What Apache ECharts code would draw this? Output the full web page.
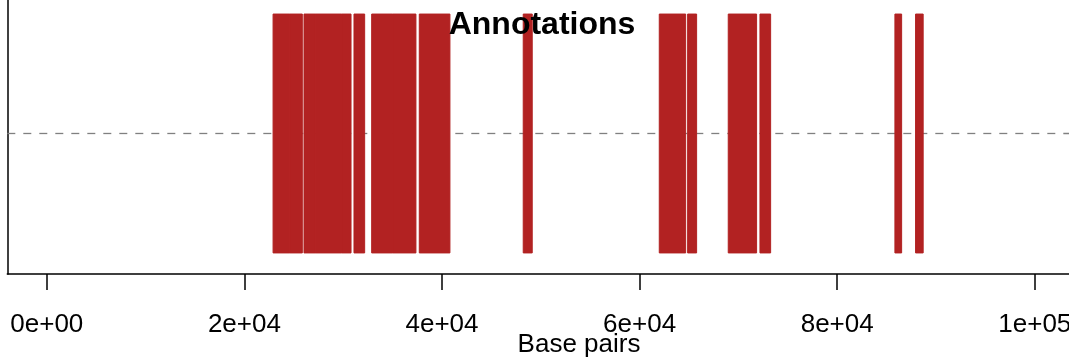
<!DOCTYPE html>
<html>
<head>
<meta charset="utf-8">
<script src="https://cdn.jsdelivr.net/npm/echarts@6/dist/echarts.min.js"></script>
<style>
html,body{margin:0;padding:0;background:#fff;}
#c{width:1069px;height:363px;}
</style>
</head>
<body>
<div id="c"></div>
<script>
// Annotation features (base pairs)
const featureStart = [22900, 24600, 26030, 27150, 29840, 31090, 32880, 35000, 37700, 48220, 61990, 64860, 68970, 72180, 85840, 87930];
const featureEnd   = [24600, 25860, 27150, 29840, 30790, 32170, 35000, 37360, 40800, 49130, 64660, 65770, 71840, 73260, 86520, 88700];
const featureLow = 0.075;
const featureHigh = 0.925;
const midLine = 0.5;
const tickValues = [0, 20000, 40000, 60000, 80000, 100000];
const tickLabels = ['0e+00', '2e+04', '4e+04', '6e+04', '8e+04', '1e+05'];

const rectData = featureStart.map((s, i) => [s, featureEnd[i], featureLow, featureHigh]);

const chart = echarts.init(document.getElementById('c'), null, {renderer: 'canvas'});
const FONT = "'Liberation Sans', Arial, Helvetica, sans-serif";
chart.setOption({
  animation: false,
  backgroundColor: '#ffffff',
  title: [
    {text: 'Annotations', left: 537, top: 4, textAlign: 'center',
     textStyle: {fontFamily: FONT, fontWeight: 'bold', fontSize: 32, color: '#000'}},
    {text: 'Base pairs', left: 574, top: 327, textAlign: 'center',
     textStyle: {fontFamily: FONT, fontWeight: 'normal', fontSize: 26, color: '#000'}}
  ],
  grid: {left: 7.3, right: 0, top: 0, bottom: 89, containLabel: false, outerBoundsMode: 'none'},
  xAxis: {
    type: 'value', min: -4000, max: 103460,
    splitLine: {show: false},
    axisLine: {show: true, onZero: false, lineStyle: {color: '#000', width: 1.5}},
    axisTick: {show: true, customValues: tickValues, length: 16, inside: false, lineStyle: {color: '#000', width: 1.5}},
    axisLabel: {show: true, customValues: tickValues, margin: 38, fontFamily: FONT, fontSize: 26, color: '#000',
      formatter: v => { const i = tickValues.indexOf(v); return i >= 0 ? tickLabels[i] : ''; }}
  },
  yAxis: {
    type: 'value', min: 0, max: 0.975,
    splitLine: {show: false},
    axisLine: {show: true, onZero: false, lineStyle: {color: '#000', width: 1.5}},
    axisTick: {show: false}, axisLabel: {show: false}
  },
  series: [
    {
      type: 'line', data: [[-4000, midLine], [103460, midLine]], symbol: 'none', z: 1,
      lineStyle: {color: '#808080', width: 1.3, type: [8, 8]}
    },
    {
      type: 'custom', z: 2, data: rectData,
      renderItem: (params, api) => {
        const p1 = api.coord([api.value(0), api.value(3)]);
        const p2 = api.coord([api.value(1), api.value(2)]);
        return {
          type: 'rect',
          shape: {x: p1[0], y: p1[1], width: p2[0] - p1[0], height: p2[1] - p1[1]},
          style: {fill: '#B22222', stroke: '#B22222', lineWidth: 1}
        };
      },
      encode: {x: [0, 1], y: [2, 3]}
    }
  ]
});
</script>
</body>
</html>
